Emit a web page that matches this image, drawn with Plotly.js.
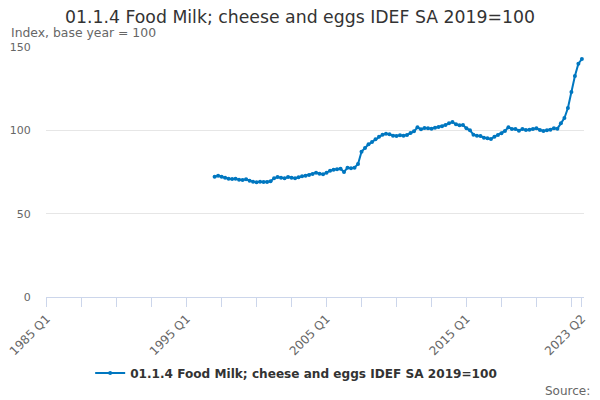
<!DOCTYPE html>
<html>
<head>
<meta charset="utf-8">
<script src="https://cdn.plot.ly/plotly-3.0.1.min.js"></script>
<style>
  html, body { margin: 0; padding: 0; background: #fff; }
  #chart { width: 600px; height: 400px; }
</style>
</head>
<body>
<div id="chart"></div>
<script>
// quarters on the axis: 1985 Q1 .. 2023 Q2
const firstYear = 1985;
const lastYear = 2023;
const lastQuarter = 2;
let quarters = [];
for (let y = firstYear; y <= lastYear; y++) {
    for (let q = 1; q <= 4; q++) {
        if (y === lastYear && q > lastQuarter) break;
        quarters.push(y + ' Q' + q);
    }
}

// series starts 1997 Q1
const seriesStart = '1997 Q1';
const milkIndex = [
    72.2, 72.8, 72.2, 71.5, 71.0, 70.8, 71.0, 70.3, 70.2, 70.6,
    69.8, 69.2, 68.8, 69.2, 69.0, 69.0, 69.4, 71.2, 72.0, 71.5,
    71.2, 72.0, 71.5, 71.3, 71.8, 72.4, 72.8, 73.2, 73.8, 74.6,
    74.0, 73.6, 74.6, 75.8, 76.4, 76.6, 77.0, 75.0, 77.6, 77.2,
    77.6, 79.8, 87.2, 89.4, 91.6, 93.0, 94.6, 96.2, 97.4, 98.0,
    97.6, 96.8, 96.6, 97.0, 96.8, 97.2, 98.4, 99.4, 101.8, 100.6,
    101.4, 101.2, 101.0, 101.6, 102.0, 102.4, 103.2, 104.2, 105.0, 103.6,
    103.0, 103.2, 101.2, 100.0, 97.4, 96.8, 96.6, 95.6, 95.2, 94.8,
    96.2, 97.2, 98.2, 99.6, 101.8, 100.8, 100.8, 99.8, 100.8, 100.2,
    100.4, 100.8, 101.2, 100.2, 99.6, 100.0, 100.4, 101.2, 101.0, 104.2,
    107.4, 113.4, 123.0, 132.6, 140.0, 142.8
];

// tick marks every 10 quarters, labels every 40 plus the last
const tickQuarters = [];
const tickLabels = [];
for (let i = 0; i < quarters.length; i += 10) {
    tickQuarters.push(quarters[i]);
    tickLabels.push(i % 40 === 0 ? quarters[i] : '');
}
tickQuarters.push(quarters[quarters.length - 1]);
tickLabels.push(quarters[quarters.length - 1]);

const seriesName = '01.1.4 Food Milk; cheese and eggs IDEF SA 2019=100';
const blue = '#0077c0';
const startIdx = quarters.indexOf(seriesStart);

const trace = {
    x: quarters.slice(startIdx, startIdx + milkIndex.length),
    y: milkIndex,
    name: seriesName,
    type: 'scatter',
    mode: 'lines+markers',
    line: { color: blue, width: 2 },
    marker: { color: blue, size: 4 },
    hoverinfo: 'skip'
};

const layout = {
    width: 600,
    height: 400,
    margin: { l: 46, r: 16, t: 47, b: 103 },
    paper_bgcolor: '#fff',
    plot_bgcolor: '#fff',
    font: { family: 'DejaVu Sans', color: '#666', size: 11 },
    title: {
        text: seriesName,
        font: { family: 'DejaVu Sans', size: 17.3, color: '#333' },
        xref: 'container', x: 0.5, xanchor: 'center',
        yref: 'container', y: 1 - 17 / 400, yanchor: 'middle'
    },
    showlegend: true,
    legend: {
        orientation: 'h',
        x: 0.465, xanchor: 'center',
        y: -0.304, yanchor: 'middle',
        font: { family: 'DejaVu Sans', size: 12.1, color: '#333', weight: 'bold' }
    },
    xaxis: {
        type: 'category',
        categoryorder: 'array',
        categoryarray: quarters,
        range: [-0.2, quarters.length - 1 + 0.6],
        tickmode: 'array',
        tickvals: tickQuarters,
        ticktext: tickLabels,
        tickangle: -45,
        ticks: 'outside',
        ticklen: 9,
        tickcolor: '#ccd6eb',
        showline: true,
        linecolor: '#ccd6eb',
        linewidth: 1,
        showgrid: false,
        zeroline: false,
        tickfont: { size: 12, color: '#666' }
    },
    yaxis: {
        range: [0, 150],
        tickvals: [0, 50, 100, 150],
        ticks: 'outside',
        ticklen: 12,
        tickcolor: 'rgba(0,0,0,0)',
        showgrid: true,
        gridcolor: '#e6e6e6',
        zeroline: false,
        showline: false,
        tickfont: { size: 11, color: '#666' }
    },
    annotations: [
        {
            text: 'Index, base year = 100',
            xref: 'paper', x: 0, xanchor: 'left', xshift: -37,
            yref: 'paper', y: 1, yanchor: 'middle', yshift: 15,
            showarrow: false,
            font: { size: 12.4, color: '#666' }
        },
        {
            text: 'Source:',
            xref: 'paper', x: 1, xanchor: 'right', xshift: 8,
            yref: 'paper', y: 0, yanchor: 'middle', yshift: -94,
            showarrow: false,
            font: { size: 12, color: '#666' }
        }
    ]
};

Plotly.newPlot('chart', [trace], layout, { displayModeBar: false, staticPlot: true });
</script>
</body>
</html>
